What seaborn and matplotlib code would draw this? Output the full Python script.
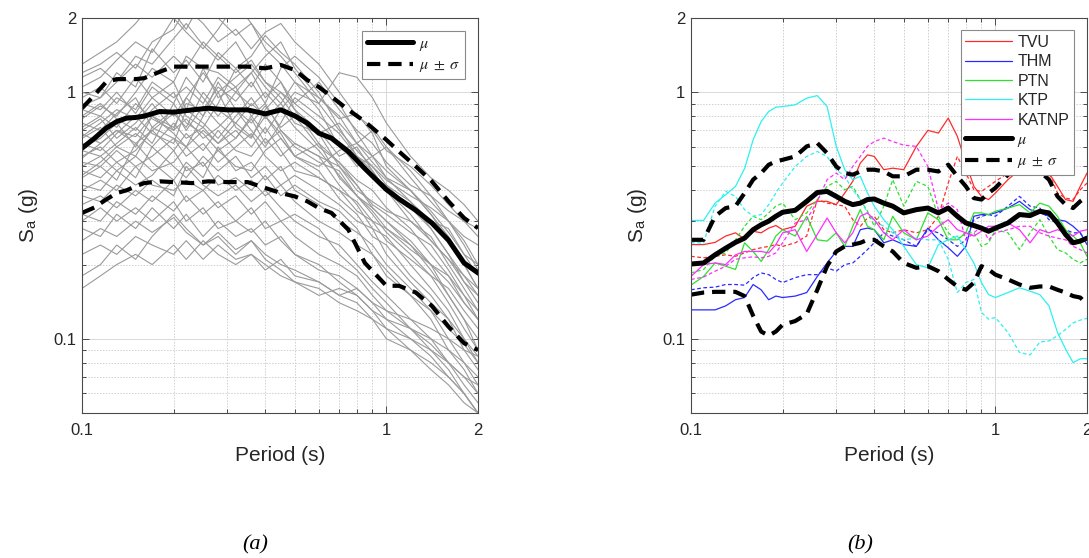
import numpy as np
import pandas as pd
import matplotlib
matplotlib.use("Agg")
import matplotlib.pyplot as plt
from matplotlib.lines import Line2D
from matplotlib.ticker import FixedLocator, FixedFormatter, NullFormatter
import seaborn as sns

# ---------------------------------------------------------------------------
# (a) response spectra of the ground-motion suite (g) versus period (s)
# ---------------------------------------------------------------------------
periods_a = [0.10, 0.115, 0.13, 0.15, 0.17, 0.20, 0.22, 0.25, 0.28, 0.32, 0.36, 0.40,
             0.45, 0.50, 0.60, 0.70, 0.80, 0.90, 1.00, 1.20, 1.40, 1.60, 1.80, 2.00]

records_a = {
    "r01": [1.30, 1.45, 1.60, 1.90, 2.30, 2.10, 1.80, 2.40, 2.00, 1.70, 1.90, 1.50, 1.30, 1.10, 0.95, 0.80, 0.62, 0.55, 0.48, 0.40, 0.33, 0.27, 0.22, 0.18],
    "r02": [1.15, 1.25, 1.10, 1.40, 1.30, 1.65, 1.90, 1.55, 1.35, 1.60, 1.25, 1.05, 0.90, 1.10, 0.85, 0.60, 0.52, 0.45, 0.42, 0.36, 0.28, 0.22, 0.17, 0.14],
    "r03": [1.00, 0.95, 1.20, 1.05, 1.50, 1.20, 1.35, 1.10, 1.45, 1.25, 1.40, 1.70, 1.45, 1.30, 1.00, 0.72, 0.55, 0.50, 0.44, 0.38, 0.34, 0.30, 0.26, 0.24],
    "r04": [0.95, 1.05, 0.90, 1.15, 0.95, 1.10, 0.85, 1.25, 0.95, 1.05, 0.80, 0.90, 0.70, 0.62, 0.55, 0.50, 0.42, 0.34, 0.30, 0.24, 0.19, 0.15, 0.12, 0.10],
    "r05": [0.90, 0.85, 1.00, 0.82, 1.05, 0.90, 1.15, 0.95, 0.80, 1.00, 1.20, 0.95, 1.10, 0.85, 0.70, 0.55, 0.60, 0.48, 0.40, 0.32, 0.25, 0.21, 0.17, 0.15],
    "r06": [0.85, 0.80, 0.72, 0.90, 0.78, 0.70, 0.95, 0.80, 1.10, 0.85, 0.75, 0.88, 0.72, 0.80, 0.60, 0.52, 0.42, 0.35, 0.32, 0.27, 0.24, 0.19, 0.15, 0.12],
    "r07": [0.80, 0.90, 0.78, 0.70, 0.85, 1.00, 0.80, 0.72, 0.90, 1.25, 1.05, 1.30, 1.10, 0.90, 0.75, 0.62, 0.50, 0.55, 0.45, 0.36, 0.30, 0.28, 0.22, 0.20],
    "r08": [0.75, 0.70, 0.82, 0.95, 0.72, 0.85, 0.70, 0.88, 0.75, 0.65, 0.80, 0.68, 0.85, 0.72, 0.58, 0.46, 0.38, 0.32, 0.27, 0.22, 0.18, 0.16, 0.13, 0.11],
    "r09": [0.70, 0.78, 0.65, 0.75, 0.90, 0.70, 0.78, 0.65, 0.72, 0.85, 0.70, 0.60, 0.75, 0.95, 0.80, 0.68, 0.55, 0.48, 0.40, 0.30, 0.26, 0.20, 0.16, 0.13],
    "r10": [0.68, 0.62, 0.70, 0.62, 0.70, 0.82, 0.72, 1.00, 0.85, 0.75, 0.90, 0.80, 0.65, 0.55, 0.62, 0.52, 0.44, 0.40, 0.34, 0.28, 0.22, 0.18, 0.14, 0.12],
    "r11": [0.65, 0.72, 0.60, 0.68, 0.60, 0.75, 0.65, 0.72, 0.62, 0.70, 0.60, 0.72, 0.58, 0.48, 0.45, 0.40, 0.36, 0.30, 0.28, 0.24, 0.20, 0.17, 0.14, 0.12],
    "r12": [0.62, 0.58, 0.68, 0.80, 0.68, 0.62, 0.85, 0.75, 0.65, 0.80, 0.95, 0.78, 0.90, 0.75, 0.68, 0.50, 0.40, 0.36, 0.33, 0.30, 0.25, 0.21, 0.18, 0.16],
    "r13": [0.60, 0.65, 0.75, 0.60, 0.80, 0.68, 0.60, 0.80, 1.00, 0.72, 0.65, 0.85, 1.00, 0.85, 0.62, 0.45, 0.38, 0.33, 0.28, 0.23, 0.20, 0.15, 0.12, 0.09],
    "r14": [0.58, 0.55, 0.62, 0.72, 0.62, 0.90, 0.75, 0.68, 0.58, 0.65, 0.78, 0.62, 0.70, 0.60, 0.52, 0.48, 0.38, 0.34, 0.30, 0.25, 0.20, 0.18, 0.15, 0.13],
    "r15": [0.55, 0.60, 0.52, 0.58, 0.70, 0.58, 0.68, 0.58, 0.70, 0.58, 0.55, 0.65, 0.55, 0.62, 0.55, 0.42, 0.35, 0.28, 0.26, 0.20, 0.16, 0.13, 0.10, 0.085],
    "r16": [0.52, 0.50, 0.58, 0.50, 0.55, 0.65, 0.55, 0.62, 0.52, 0.60, 0.68, 0.55, 0.48, 0.52, 0.45, 0.40, 0.33, 0.30, 0.25, 0.21, 0.18, 0.14, 0.11, 0.09],
    "r17": [0.50, 0.55, 0.48, 0.55, 0.48, 0.52, 0.60, 0.50, 0.58, 0.50, 0.48, 0.58, 0.65, 0.55, 0.48, 0.37, 0.32, 0.26, 0.24, 0.18, 0.15, 0.12, 0.10, 0.08],
    "r18": [0.48, 0.45, 0.52, 0.45, 0.60, 0.50, 0.45, 0.55, 0.48, 0.55, 0.45, 0.50, 0.42, 0.46, 0.40, 0.35, 0.30, 0.28, 0.22, 0.17, 0.14, 0.12, 0.09, 0.075],
    "r19": [0.45, 0.50, 0.44, 0.62, 0.52, 0.44, 0.52, 0.45, 0.60, 0.48, 0.52, 0.44, 0.50, 0.40, 0.35, 0.30, 0.27, 0.24, 0.20, 0.16, 0.13, 0.10, 0.08, 0.065],
    "r20": [0.42, 0.40, 0.48, 0.42, 0.46, 0.58, 0.48, 0.52, 0.42, 0.45, 0.40, 0.46, 0.38, 0.42, 0.36, 0.33, 0.28, 0.22, 0.19, 0.15, 0.12, 0.09, 0.075, 0.06],
    "r21": [0.40, 0.44, 0.40, 0.50, 0.42, 0.40, 0.44, 0.40, 0.46, 0.40, 0.44, 0.38, 0.42, 0.36, 0.30, 0.27, 0.24, 0.22, 0.18, 0.15, 0.13, 0.11, 0.095, 0.08],
    "r22": [0.38, 0.36, 0.42, 0.38, 0.44, 0.38, 0.50, 0.42, 0.38, 0.42, 0.36, 0.40, 0.34, 0.30, 0.26, 0.24, 0.20, 0.17, 0.15, 0.12, 0.10, 0.08, 0.065, 0.055],
    "r23": [0.35, 0.38, 0.34, 0.40, 0.36, 0.44, 0.36, 0.40, 0.34, 0.38, 0.32, 0.36, 0.30, 0.32, 0.28, 0.22, 0.19, 0.16, 0.14, 0.11, 0.09, 0.075, 0.06, 0.05],
    "r24": [0.32, 0.30, 0.36, 0.32, 0.38, 0.33, 0.38, 0.32, 0.36, 0.30, 0.34, 0.28, 0.30, 0.26, 0.22, 0.20, 0.18, 0.15, 0.13, 0.11, 0.095, 0.08, 0.07, 0.06],
    "r25": [0.30, 0.34, 0.30, 0.34, 0.30, 0.36, 0.30, 0.34, 0.28, 0.30, 0.27, 0.30, 0.25, 0.22, 0.20, 0.17, 0.15, 0.13, 0.11, 0.09, 0.08, 0.07, 0.06, 0.05],
    "r26": [0.28, 0.26, 0.32, 0.28, 0.34, 0.28, 0.32, 0.26, 0.30, 0.26, 0.28, 0.24, 0.26, 0.22, 0.19, 0.18, 0.16, 0.14, 0.12, 0.10, 0.085, 0.07, 0.06, 0.05],
    "r27": [0.25, 0.28, 0.26, 0.30, 0.27, 0.31, 0.27, 0.24, 0.26, 0.22, 0.25, 0.22, 0.20, 0.19, 0.17, 0.15, 0.14, 0.12, 0.10, 0.09, 0.075, 0.065, 0.055, 0.05],
    "r28": [0.22, 0.24, 0.22, 0.26, 0.24, 0.22, 0.25, 0.21, 0.24, 0.21, 0.22, 0.20, 0.18, 0.17, 0.16, 0.14, 0.13, 0.12, 0.11, 0.10, 0.09, 0.08, 0.07, 0.065],
    "r29": [0.18, 0.20, 0.24, 0.21, 0.26, 0.32, 0.28, 0.24, 0.27, 0.23, 0.25, 0.21, 0.19, 0.17, 0.15, 0.16, 0.15, 0.13, 0.12, 0.11, 0.10, 0.09, 0.08, 0.07],
    "r30": [0.16, 0.18, 0.20, 0.22, 0.20, 0.24, 0.21, 0.25, 0.22, 0.20, 0.22, 0.19, 0.21, 0.18, 0.17, 0.15, 0.16, 0.14, 0.13, 0.12, 0.11, 0.10, 0.09, 0.085],
    "r31": [1.20, 1.30, 1.45, 1.25, 1.60, 1.80, 2.20, 1.90, 1.60, 1.80, 1.50, 1.75, 1.90, 1.60, 1.30, 1.00, 0.80, 0.72, 0.60, 0.45, 0.36, 0.30, 0.25, 0.20],
    "r32": [0.88, 0.95, 1.10, 1.30, 1.15, 1.40, 1.25, 1.60, 1.40, 1.20, 1.35, 1.10, 1.00, 0.90, 1.10, 0.85, 0.70, 0.62, 0.52, 0.42, 0.38, 0.33, 0.30, 0.28],
    "r33": [0.72, 0.80, 0.95, 0.85, 1.10, 0.95, 1.05, 0.90, 1.15, 1.00, 0.88, 1.00, 0.85, 1.00, 0.90, 1.20, 1.15, 0.95, 0.75, 0.55, 0.45, 0.40, 0.35, 0.30],
    "r34": [0.66, 0.75, 0.85, 0.78, 0.95, 0.80, 0.95, 1.20, 1.00, 1.15, 1.30, 1.10, 0.95, 0.80, 0.68, 0.75, 0.62, 0.70, 0.58, 0.50, 0.42, 0.35, 0.30, 0.26],
    "r35": [0.54, 0.62, 0.70, 0.66, 0.80, 0.72, 0.90, 0.85, 1.05, 0.92, 1.10, 0.90, 1.25, 1.40, 1.15, 0.90, 0.68, 0.55, 0.60, 0.48, 0.38, 0.30, 0.24, 0.19],
    "r36": [0.46, 0.52, 0.60, 0.55, 0.72, 0.65, 0.60, 0.70, 0.62, 0.75, 0.66, 0.80, 0.68, 0.55, 0.50, 0.58, 0.62, 0.52, 0.45, 0.40, 0.32, 0.26, 0.20, 0.16],
    "r37": [1.05, 1.15, 1.35, 1.60, 1.45, 2.00, 1.75, 1.50, 1.80, 2.30, 1.90, 1.60, 1.40, 1.20, 0.90, 0.70, 0.58, 0.50, 0.42, 0.34, 0.28, 0.22, 0.18, 0.15],
    "r38": [0.78, 0.88, 0.80, 1.00, 1.25, 1.10, 1.40, 1.25, 1.20, 1.05, 1.20, 1.40, 1.60, 1.25, 0.95, 0.78, 0.82, 0.68, 0.50, 0.40, 0.32, 0.25, 0.20, 0.16],
}

# suite statistics
periods_stat_a = [0.10, 0.11, 0.12, 0.13, 0.14, 0.15, 0.16, 0.18, 0.20, 0.23, 0.26, 0.30, 0.35, 0.40,
                  0.45, 0.50, 0.55, 0.60, 0.66, 0.75, 0.85, 1.00, 1.10, 1.25, 1.41, 1.60, 1.80, 2.00]
mean_a = [0.593, 0.651, 0.715, 0.760, 0.785, 0.790, 0.800, 0.835, 0.830, 0.848, 0.861, 0.848, 0.848, 0.817,
          0.848, 0.802, 0.749, 0.682, 0.651, 0.575, 0.490, 0.403, 0.369, 0.332, 0.295, 0.251, 0.203, 0.185]
plus_a = [0.861, 0.975, 1.10, 1.13, 1.13, 1.13, 1.14, 1.21, 1.27, 1.27, 1.27, 1.27, 1.27, 1.25,
          1.29, 1.23, 1.12, 1.05, 0.96, 0.848, 0.760, 0.641, 0.575, 0.500, 0.435, 0.361, 0.309, 0.281]
minus_a = [0.324, 0.341, 0.367, 0.390, 0.400, 0.415, 0.428, 0.435, 0.432, 0.428, 0.435, 0.432, 0.432, 0.409,
           0.390, 0.378, 0.361, 0.339, 0.324, 0.277, 0.203, 0.164, 0.164, 0.154, 0.136, 0.112, 0.096, 0.090]

# ---------------------------------------------------------------------------
# (b) station spectra: solid = first horizontal component, dashed = second
# ---------------------------------------------------------------------------
periods_b = [0.10, 0.11, 0.12, 0.13, 0.14, 0.15, 0.16, 0.17, 0.18, 0.19, 0.20, 0.22, 0.24, 0.26, 0.28,
             0.30, 0.32, 0.34, 0.36, 0.38, 0.40, 0.43, 0.46, 0.50, 0.55, 0.60, 0.65, 0.70, 0.75, 0.80,
             0.85, 0.90, 0.95, 1.00, 1.10, 1.20, 1.30, 1.40, 1.50, 1.60, 1.70, 1.80, 1.90, 2.00]

stations = ["TVU", "THM", "PTN", "KTP", "KATNP"]
station_colors = ["#ff2a2a", "#2a2aff", "#2ee02e", "#2ef0f0", "#ff2eff"]

tvu_1 = [0.241, 0.241, 0.246, 0.261, 0.269, 0.254, 0.273, 0.269, 0.281, 0.288, 0.277, 0.286, 0.345, 0.361, 0.361,
         0.350, 0.390, 0.435, 0.516, 0.557, 0.549, 0.485, 0.492, 0.485, 0.603, 0.700, 0.683, 0.785, 0.662, 0.516,
         0.415, 0.378, 0.367, 0.390, 0.442, 0.485, 0.532, 0.532, 0.470, 0.415, 0.367, 0.361, 0.415, 0.470]
tvu_2 = [0.216, 0.213, 0.216, 0.219, 0.216, 0.223, 0.230, 0.234, 0.237, 0.241, 0.237, 0.245, 0.261, 0.367, 0.355,
         0.350, 0.345, 0.304, 0.286, 0.309, 0.314, 0.277, 0.269, 0.277, 0.269, 0.277, 0.314, 0.428, 0.549, 0.470,
         0.402, 0.396, 0.415, 0.435, 0.470, 0.516, 0.532, 0.500, 0.470, 0.390, 0.372, 0.367, 0.402, 0.428]
thm_1 = [0.131, 0.131, 0.131, 0.136, 0.144, 0.147, 0.166, 0.158, 0.144, 0.149, 0.147, 0.149, 0.154, 0.179, 0.203,
         0.226, 0.237, 0.237, 0.277, 0.281, 0.277, 0.245, 0.252, 0.241, 0.237, 0.281, 0.252, 0.234, 0.216, 0.237,
         0.314, 0.319, 0.319, 0.324, 0.339, 0.361, 0.334, 0.324, 0.314, 0.304, 0.300, 0.286, 0.269, 0.241]
thm_2 = [0.158, 0.161, 0.162, 0.166, 0.166, 0.165, 0.177, 0.185, 0.182, 0.174, 0.169, 0.177, 0.182, 0.182, 0.194,
         0.188, 0.200, 0.203, 0.216, 0.230, 0.245, 0.269, 0.261, 0.252, 0.237, 0.277, 0.269, 0.252, 0.237, 0.252,
         0.304, 0.314, 0.319, 0.314, 0.345, 0.378, 0.345, 0.339, 0.304, 0.295, 0.277, 0.269, 0.269, 0.245]
ptn_1 = [0.165, 0.179, 0.203, 0.197, 0.191, 0.245, 0.226, 0.206, 0.230, 0.261, 0.277, 0.261, 0.314, 0.252, 0.249,
         0.269, 0.237, 0.286, 0.334, 0.286, 0.277, 0.252, 0.314, 0.269, 0.252, 0.324, 0.304, 0.252, 0.252, 0.269,
         0.324, 0.324, 0.319, 0.329, 0.339, 0.350, 0.324, 0.355, 0.345, 0.314, 0.277, 0.261, 0.245, 0.216]
ptn_2 = [0.185, 0.191, 0.216, 0.223, 0.252, 0.286, 0.314, 0.304, 0.324, 0.345, 0.355, 0.304, 0.324, 0.367, 0.415,
         0.435, 0.402, 0.415, 0.367, 0.329, 0.286, 0.345, 0.442, 0.345, 0.435, 0.415, 0.314, 0.269, 0.252, 0.269,
         0.269, 0.237, 0.245, 0.277, 0.269, 0.230, 0.269, 0.304, 0.261, 0.230, 0.223, 0.210, 0.203, 0.210]
ktp_1 = [0.302, 0.302, 0.355, 0.384, 0.415, 0.490, 0.641, 0.760, 0.835, 0.870, 0.875, 0.889, 0.946, 0.969, 0.875,
         0.603, 0.485, 0.442, 0.456, 0.390, 0.345, 0.304, 0.277, 0.237, 0.200, 0.194, 0.241, 0.252, 0.261, 0.230,
         0.203, 0.169, 0.151, 0.147, 0.154, 0.161, 0.156, 0.151, 0.136, 0.106, 0.091, 0.080, 0.083, 0.083]
ktp_2 = [0.245, 0.245, 0.345, 0.396, 0.378, 0.334, 0.314, 0.319, 0.350, 0.390, 0.428, 0.500, 0.549, 0.575, 0.549,
         0.485, 0.456, 0.402, 0.367, 0.324, 0.300, 0.286, 0.269, 0.252, 0.256, 0.252, 0.252, 0.210, 0.154, 0.169,
         0.174, 0.128, 0.120, 0.122, 0.106, 0.088, 0.086, 0.097, 0.098, 0.103, 0.109, 0.116, 0.119, 0.121]
katnp_1 = [0.179, 0.200, 0.203, 0.200, 0.219, 0.226, 0.226, 0.226, 0.223, 0.241, 0.269, 0.277, 0.226, 0.265, 0.309,
           0.269, 0.245, 0.269, 0.314, 0.324, 0.304, 0.269, 0.252, 0.277, 0.252, 0.261, 0.286, 0.304, 0.277, 0.269,
           0.261, 0.273, 0.286, 0.286, 0.295, 0.277, 0.245, 0.277, 0.269, 0.277, 0.269, 0.261, 0.273, 0.277]
katnp_2 = [0.174, 0.178, 0.188, 0.197, 0.210, 0.213, 0.215, 0.213, 0.216, 0.223, 0.245, 0.295, 0.304, 0.361, 0.442,
           0.470, 0.442, 0.500, 0.549, 0.603, 0.631, 0.651, 0.631, 0.610, 0.603, 0.500, 0.334, 0.355, 0.334, 0.252,
           0.269, 0.286, 0.252, 0.269, 0.277, 0.286, 0.286, 0.269, 0.261, 0.256, 0.252, 0.237, 0.230, 0.223]

mean_b = [0.201, 0.203, 0.219, 0.233, 0.246, 0.256, 0.277, 0.290, 0.300, 0.314, 0.326, 0.332, 0.361, 0.392, 0.396,
          0.378, 0.361, 0.350, 0.355, 0.367, 0.369, 0.355, 0.345, 0.324, 0.334, 0.339, 0.324, 0.339, 0.314, 0.295,
          0.288, 0.281, 0.273, 0.281, 0.295, 0.319, 0.316, 0.329, 0.324, 0.295, 0.265, 0.245, 0.249, 0.256]
plus_b = [0.252, 0.252, 0.314, 0.339, 0.345, 0.390, 0.442, 0.470, 0.508, 0.524, 0.532, 0.549, 0.603, 0.622, 0.566,
          0.500, 0.470, 0.463, 0.477, 0.485, 0.485, 0.477, 0.456, 0.456, 0.485, 0.485, 0.477, 0.508, 0.456, 0.415,
          0.372, 0.367, 0.390, 0.409, 0.463, 0.485, 0.485, 0.477, 0.442, 0.378, 0.350, 0.339, 0.361, 0.378]
minus_b = [0.151, 0.154, 0.155, 0.155, 0.155, 0.149, 0.124, 0.107, 0.103, 0.107, 0.114, 0.118, 0.126, 0.158, 0.197,
           0.226, 0.237, 0.241, 0.245, 0.252, 0.252, 0.237, 0.226, 0.203, 0.194, 0.197, 0.188, 0.174, 0.163, 0.158,
           0.169, 0.197, 0.191, 0.182, 0.174, 0.166, 0.161, 0.163, 0.163, 0.158, 0.154, 0.149, 0.147, 0.138]

station_series = {
    "TVU": (tvu_1, tvu_2),
    "THM": (thm_1, thm_2),
    "PTN": (ptn_1, ptn_2),
    "KTP": (ktp_1, ktp_2),
    "KATNP": (katnp_1, katnp_2),
}

# ---------------------------------------------------------------------------
# styling
# ---------------------------------------------------------------------------
sns.set_theme(style="ticks")
plt.rcParams["font.family"] = ["Liberation Sans", "DejaVu Sans"]
plt.rcParams["mathtext.fontset"] = "stix"
TEXT = "#262626"
AXC = "#4a4a4a"
BLACK_DASH = (0, (3.2, 1.9))
THIN_DASH = (0, (3.0, 2.0))
LEGEND_KW = dict(loc="upper right", borderaxespad=0, fontsize=11.5, handlelength=2.9,
                 handletextpad=0.35, labelspacing=0.28, borderpad=0.3, fancybox=False,
                 framealpha=1, edgecolor="#8a8a8a")

fig = plt.figure(figsize=(10.89, 5.58), dpi=100)
fig.patch.set_facecolor("white")
ax_a = fig.add_axes([82 / 1089, 1 - 413 / 558, 396 / 1089, 395 / 558])
ax_b = fig.add_axes([691 / 1089, 1 - 413 / 558, 396 / 1089, 395 / 558])


def style_axes(ax):
    ax.set_xscale("log")
    ax.set_yscale("log")
    ax.set_xlim(0.1, 2)
    ax.set_ylim(0.05, 2)
    ax.xaxis.set_major_locator(FixedLocator([0.1, 1, 2]))
    ax.xaxis.set_major_formatter(FixedFormatter(["0.1", "1", "2"]))
    ax.xaxis.set_minor_locator(FixedLocator([0.2, 0.3, 0.4, 0.5, 0.6, 0.7, 0.8, 0.9]))
    ax.xaxis.set_minor_formatter(NullFormatter())
    ax.yaxis.set_major_locator(FixedLocator([0.1, 1, 2]))
    ax.yaxis.set_major_formatter(FixedFormatter(["0.1", "1", "2"]))
    ax.yaxis.set_minor_locator(FixedLocator([0.06, 0.07, 0.08, 0.09, 0.2, 0.3, 0.4, 0.5,
                                             0.6, 0.7, 0.8, 0.9]))
    ax.yaxis.set_minor_formatter(NullFormatter())
    ax.grid(which="major", color="#d8d8d8", lw=0.7, ls="-")
    ax.grid(which="minor", color="#cfcfcf", lw=0.7, ls=(0, (1.5, 1.5)))
    ax.set_axisbelow(True)
    ax.tick_params(which="both", direction="in", top=True, right=True, color=AXC,
                   labelcolor=TEXT, labelsize=12, width=0.7)
    ax.tick_params(which="major", length=5)
    ax.tick_params(which="minor", length=3)
    ax.tick_params(axis="x", pad=7)
    ax.tick_params(axis="y", pad=4)
    for sp in ax.spines.values():
        sp.set_color(AXC)
        sp.set_linewidth(0.8)
        sp.set_visible(True)
    ax.set_facecolor("white")
    ax.set_xlabel("Period (s)", fontsize=15, color=TEXT, labelpad=6)
    ax.set_ylabel(r"S$_{\mathregular{a}}$ (g)", fontsize=15, color=TEXT)
    ax.yaxis.set_label_coords(-0.105, 0.5)


def finish_legend(leg):
    leg.get_frame().set_linewidth(0.8)
    for t in leg.get_texts():
        t.set_color(TEXT)


stat_labels = [r"$\mu$", r"$\mu \;\pm\; \sigma$"]

# ---- panel (a) ----
long_a = pd.DataFrame(
    [(rid, t, v) for rid, vals in records_a.items() for t, v in zip(periods_a, vals)],
    columns=["record", "period", "sa"],
)
sns.lineplot(data=long_a, x="period", y="sa", units="record", estimator=None,
             color="#9a9a9a", lw=0.8, ax=ax_a, legend=False, sort=False)
stat_a = pd.DataFrame({"period": periods_stat_a, "mean": mean_a,
                       "plus": plus_a, "minus": minus_a})
sns.lineplot(data=stat_a, x="period", y="plus", color="black", lw=3.0, ax=ax_a,
             linestyle=BLACK_DASH, legend=False)
sns.lineplot(data=stat_a, x="period", y="minus", color="black", lw=3.0, ax=ax_a,
             linestyle=BLACK_DASH, legend=False)
sns.lineplot(data=stat_a, x="period", y="mean", color="black", lw=3.6, ax=ax_a,
             legend=False)
style_axes(ax_a)

leg_handles_a = [Line2D([], [], color="black", lw=3.6),
                 Line2D([], [], color="black", lw=3.0, ls=BLACK_DASH)]
leg_a = ax_a.legend(leg_handles_a, stat_labels, bbox_to_anchor=(0.967, 0.967), **LEGEND_KW)
finish_legend(leg_a)

# ---- panel (b) ----
for name, color in zip(stations, station_colors):
    comp1, comp2 = station_series[name]
    df = pd.DataFrame({"period": periods_b, "c1": comp1, "c2": comp2})
    sns.lineplot(data=df, x="period", y="c2", color=color, lw=0.9, ls=THIN_DASH,
                 ax=ax_b, legend=False)
    sns.lineplot(data=df, x="period", y="c1", color=color, lw=0.9, ax=ax_b, legend=False)

stat_b = pd.DataFrame({"period": periods_b, "mean": mean_b, "plus": plus_b, "minus": minus_b})
sns.lineplot(data=stat_b, x="period", y="plus", color="black", lw=3.0, ax=ax_b,
             linestyle=BLACK_DASH, legend=False)
sns.lineplot(data=stat_b, x="period", y="minus", color="black", lw=3.0, ax=ax_b,
             linestyle=BLACK_DASH, legend=False)
sns.lineplot(data=stat_b, x="period", y="mean", color="black", lw=3.6, ax=ax_b, legend=False)
style_axes(ax_b)

leg_handles_b = [Line2D([], [], color=c, lw=0.9) for c in station_colors]
leg_handles_b += [Line2D([], [], color="black", lw=3.6),
                  Line2D([], [], color="black", lw=3.0, ls=BLACK_DASH)]
leg_b = ax_b.legend(leg_handles_b, stations + stat_labels, bbox_to_anchor=(0.967, 0.97),
                    **LEGEND_KW)
finish_legend(leg_b)

# panel captions
fig.text(255 / 1089, 1 - 545 / 558, "(a)", family="Liberation Serif", style="italic",
         fontsize=16, ha="center", va="center", color="black")
fig.text(860 / 1089, 1 - 545 / 558, "(b)", family="Liberation Serif", style="italic",
         fontsize=16, ha="center", va="center", color="black")

fig.savefig("out.png", dpi=100, facecolor="white")
